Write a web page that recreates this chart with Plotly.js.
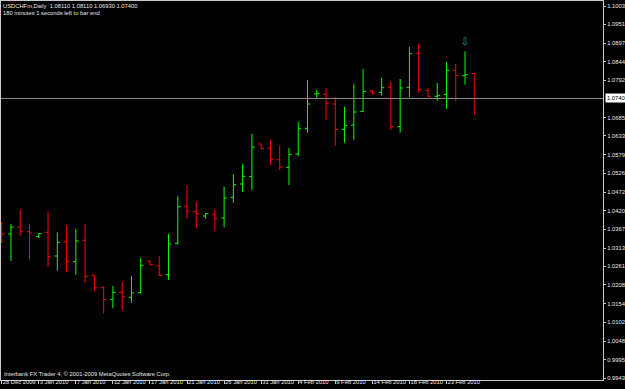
<!DOCTYPE html>
<html>
<head>
<meta charset="utf-8">
<script src="https://cdn.plot.ly/plotly-3.0.1.min.js"></script>
<style>
html,body{margin:0;padding:0;background:#000;}
#chart{width:625px;height:389px;}
</style>
</head>
<body>
<div id="chart"></div>
<script>
const dates = ["28 Dec 2009","29 Dec 2009","30 Dec 2009","31 Dec 2009","3 Jan 2010","4 Jan 2010","5 Jan 2010","6 Jan 2010","7 Jan 2010","8 Jan 2010","10 Jan 2010","11 Jan 2010","12 Jan 2010","13 Jan 2010","14 Jan 2010","15 Jan 2010","17 Jan 2010","18 Jan 2010","19 Jan 2010","20 Jan 2010","21 Jan 2010","22 Jan 2010","24 Jan 2010","25 Jan 2010","26 Jan 2010","27 Jan 2010","28 Jan 2010","29 Jan 2010","31 Jan 2010","1 Feb 2010","2 Feb 2010","3 Feb 2010","4 Feb 2010","5 Feb 2010","7 Feb 2010","8 Feb 2010","9 Feb 2010","10 Feb 2010","11 Feb 2010","12 Feb 2010","14 Feb 2010","15 Feb 2010","16 Feb 2010","17 Feb 2010","18 Feb 2010","19 Feb 2010","21 Feb 2010","22 Feb 2010","23 Feb 2010","24 Feb 2010","25 Feb 2010","26 Feb 2010"];

const openP  = [1.03706,1.03535,1.03735,1.03601,1.03458,1.03584,1.02908,1.03316,1.02746,1.03356,1.02358,1.02004,1.01674,1.01873,1.01731,1.01862,1.02757,1.02631,1.02375,1.03270,1.04325,1.04171,1.04048,1.04097,1.03991,1.04581,1.04961,1.05169,1.06101,1.05978,1.05653,1.05437,1.05816,1.06548,1.07526,1.07518,1.07241,1.06520,1.06643,1.07033,1.07612,1.07575,1.07717,1.06594,1.07717,1.08687,1.07632,1.07461,1.07518,1.08202,1.08047,1.08110];
const highP  = [1.03877,1.03820,1.04219,1.03829,1.03564,1.04182,1.03584,1.03783,1.03678,1.03829,1.02366,1.02044,1.02053,1.02175,1.02338,1.02851,1.02785,1.02908,1.03535,1.04610,1.04932,1.04447,1.04125,1.04219,1.04884,1.05237,1.05539,1.06394,1.06121,1.06215,1.06052,1.05987,1.06728,1.07925,1.07640,1.07706,1.07441,1.07164,1.07803,1.08239,1.07640,1.07991,1.07868,1.07954,1.08866,1.08952,1.07697,1.07840,1.08439,1.08390,1.08744,1.08110];
const lowP   = [1.03279,1.02765,1.03487,1.02822,1.03430,1.02594,1.02489,1.02460,1.02375,1.02130,1.01910,1.01274,1.01417,1.01360,1.01577,1.01845,1.02643,1.02338,1.02232,1.03230,1.03971,1.03715,1.03971,1.03629,1.03726,1.04427,1.04732,1.04789,1.05967,1.05502,1.05360,1.04932,1.05750,1.06423,1.07421,1.06785,1.06052,1.06138,1.06223,1.07013,1.07518,1.07478,1.06500,1.06423,1.07441,1.07563,1.07441,1.07335,1.07107,1.07318,1.07791,1.06930];
const closeP = [1.03535,1.03735,1.03601,1.03564,1.03544,1.02888,1.03299,1.02746,1.03336,1.02329,1.02004,1.01674,1.01873,1.01748,1.01853,1.02631,1.02660,1.02358,1.03250,1.04313,1.04191,1.04114,1.04114,1.03983,1.04561,1.04941,1.05180,1.06015,1.05978,1.05665,1.05445,1.05807,1.06548,1.07241,1.07546,1.07261,1.06520,1.06623,1.07013,1.07603,1.07535,1.07706,1.06594,1.07697,1.08675,1.07649,1.07461,1.07489,1.08202,1.08059,1.08076,1.07400];

const priceTicks = [1.10035,1.09510,1.08970,1.08445,1.07920,1.06855,1.06330,1.05790,1.05265,1.04725,1.04200,1.03675,1.03135,1.02610,1.02085,1.01545,1.01020,1.00480,0.99955,0.99430];

const signalDates = ["25 Feb 2010"];
const signalPrice = [1.09009];

const symbolName = "USDCHFm,Daily";
const timerText = "180 minutes 1 seconds left to bar end";
const copyrightText = "Interbank FX Trader 4, \u00A9 2001-2009 MetaQuotes Software Corp.";

const last = closeP.length - 1;
const lastClose = closeP[last];
const fnt = "Liberation Sans, Arial, sans-serif";
const fs = 5.8;
const fg = "#E8E8E8";

const traces = [
  {
    type: "ohlc",
    x: dates,
    open: openP, high: highP, low: lowP, close: closeP,
    increasing: {line: {color: "#00FF00", width: 1}},
    decreasing: {line: {color: "#FF0000", width: 1}},
    tickwidth: 0.3,
    hoverinfo: "skip",
    showlegend: false
  },
  {
    type: "scatter",
    mode: "text",
    x: signalDates,
    y: signalPrice,
    text: signalDates.map(() => "\u21E9"),
    textfont: {family: "DejaVu Sans", size: 10, color: "#1FA3B5"},
    textposition: "middle center",
    hoverinfo: "skip",
    showlegend: false
  }
];

const header = symbolName + "  " + [openP[last], highP[last], lowP[last], closeP[last]].map(v => v.toFixed(5)).join(" ");

const layout = {
  width: 625, height: 389,
  margin: {l: 1, r: 22, t: 1, b: 9, pad: 0},
  paper_bgcolor: "#000000",
  plot_bgcolor: "#000000",
  showlegend: false,
  font: {family: fnt, size: fs, color: fg},
  xaxis: {
    type: "category",
    range: [-0.076, 64.89],
    tickmode: "linear", tick0: 0, dtick: 4,
    ticks: "outside", ticklen: 3, tickcolor: "#C8C8C8", tickwidth: 1,
    ticklabelposition: "outside right",
    ticklabelstandoff: -4,
    tickangle: 0,
    tickfont: {family: fnt, size: fs, color: fg},
    showline: true, linecolor: "#C8C8C8", linewidth: 1, mirror: true,
    showgrid: false, zeroline: false,
    rangeslider: {visible: false},
    fixedrange: true
  },
  yaxis: {
    side: "right",
    range: [0.99373, 1.10178],
    tickmode: "array",
    tickvals: priceTicks,
    ticktext: priceTicks.map(v => v.toFixed(5)),
    ticks: "outside", ticklen: 2, tickcolor: "#C8C8C8", tickwidth: 1,
    tickfont: {family: fnt, size: fs, color: fg},
    showline: true, linecolor: "#C8C8C8", linewidth: 1, mirror: true,
    showgrid: false, zeroline: false,
    fixedrange: true
  },
  shapes: [
    {type: "line", xref: "paper", x0: 0, x1: 1, yref: "y", y0: lastClose, y1: lastClose,
     line: {color: "#8C8C8C", width: 1}}
  ],
  annotations: [
    {xref: "paper", yref: "paper", x: 0, y: 1, xanchor: "left", yanchor: "top",
     text: header, showarrow: false, font: {family: fnt, size: fs, color: fg}, borderpad: 1},
    {xref: "paper", yref: "paper", x: 0, y: 1, xanchor: "left", yanchor: "top", yshift: -6.6,
     text: timerText, showarrow: false, font: {family: fnt, size: fs, color: fg}, borderpad: 1},
    {xref: "paper", yref: "paper", x: 0, y: 0, xanchor: "left", yanchor: "bottom", xshift: 1, yshift: 1,
     text: copyrightText, showarrow: false, font: {family: fnt, size: fs, color: fg}, borderpad: 1},
    {xref: "paper", yref: "y", x: 1, y: lastClose, xanchor: "left", yanchor: "middle", xshift: 2,
     text: lastClose.toFixed(5), showarrow: false, bgcolor: "#FFFFFF",
     font: {family: fnt, size: fs, color: "#000000"}, borderpad: 1}
  ]
};

Plotly.newPlot("chart", traces, layout, {displayModeBar: false, staticPlot: true});
</script>
</body>
</html>
